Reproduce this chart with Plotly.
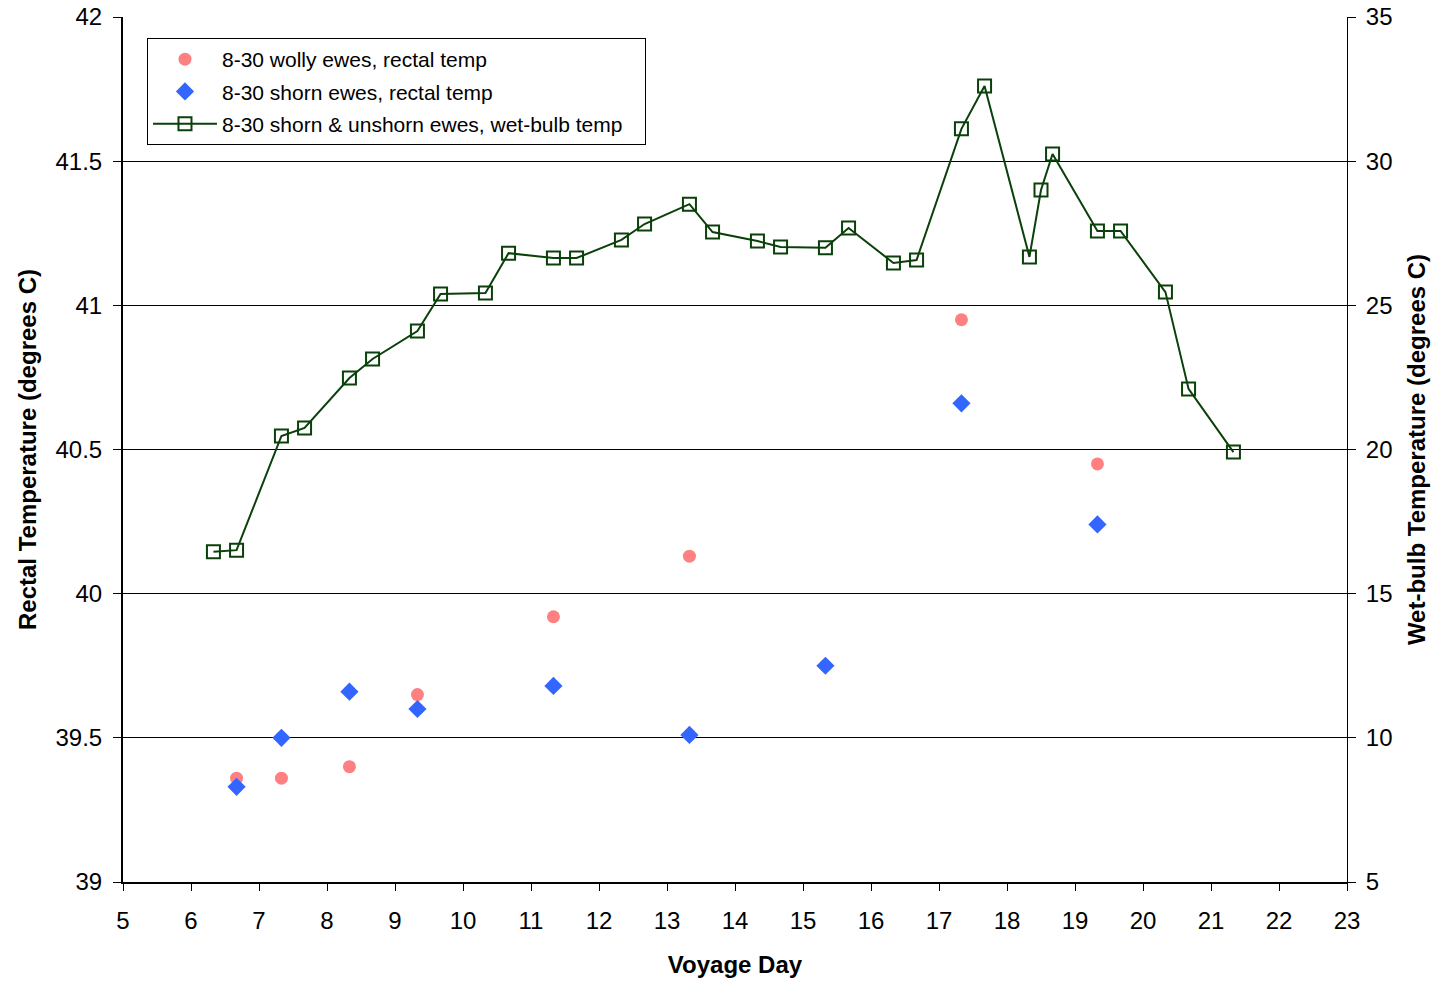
import plotly.graph_objects as go

# Wet-bulb temperature (right axis)
wb_day = [6.33, 6.67, 7.33, 7.67, 8.33, 8.67, 9.33, 9.67, 10.33, 10.67, 11.33, 11.67,
          12.33, 12.67, 13.33, 13.67, 14.33, 14.67, 15.33, 15.67, 16.33, 16.67,
          17.33, 17.67, 18.33, 18.5, 18.67, 19.33, 19.67, 20.33, 20.67, 21.33]
wb_temp = [16.45, 16.51, 20.47, 20.75, 22.48, 23.14, 24.11, 25.39, 25.43, 26.81, 26.64, 26.64,
           27.27, 27.82, 28.51, 27.54, 27.23, 27.02, 27.0, 27.68, 26.47, 26.57,
           31.12, 32.61, 26.68, 29.0, 30.25, 27.58, 27.58, 25.46, 22.1, 19.91]

# Woolly ewes rectal temperature (left axis)
woolly_day = [6.67, 7.33, 8.33, 9.33, 11.33, 13.33, 17.33, 19.33]
woolly_temp = [39.36, 39.36, 39.40, 39.65, 39.92, 40.13, 40.95, 40.45]

# Shorn ewes rectal temperature (left axis)
shorn_day = [6.67, 7.33, 8.33, 9.33, 11.33, 13.33, 15.33, 17.33, 19.33]
shorn_temp = [39.33, 39.50, 39.66, 39.60, 39.68, 39.51, 39.75, 40.66, 40.24]

FONT = "Arial, Liberation Sans, sans-serif"
GREEN = "#0A400A"

fig = go.Figure()
fig.add_trace(go.Scatter(
    x=woolly_day, y=woolly_temp, mode="markers", name="8-30 wolly ewes, rectal temp",
    marker=dict(symbol="circle", size=13, color="#FF8080"), legendgroup="a"))
fig.add_trace(go.Scatter(
    x=shorn_day, y=shorn_temp, mode="markers", name="8-30 shorn ewes, rectal temp",
    marker=dict(symbol="diamond", size=14, color="#3366FF"), legendgroup="b"))
fig.add_trace(go.Scatter(
    x=wb_day, y=wb_temp, mode="lines+markers", yaxis="y2",
    name="8-30 shorn & unshorn ewes, wet-bulb temp\u00a0\u00a0\u00a0",
    line=dict(color=GREEN, width=2),
    marker=dict(symbol="square-open", size=13, color=GREEN, line=dict(width=2, color=GREEN)),
    legendgroup="c"))
# empty helper traces so the inner tick axes are drawn
fig.add_trace(go.Scatter(x=[None], y=[None], yaxis="y3", showlegend=False, hoverinfo="skip"))
fig.add_trace(go.Scatter(x=[None], y=[None], yaxis="y4", showlegend=False, hoverinfo="skip"))

tickfont = dict(family=FONT, size=24, color="black")
titlefont = dict(family=FONT, size=24, color="black", weight="bold")

fig.update_layout(
    width=1436, height=984,
    margin=dict(l=123, r=89, t=17, b=102, autoexpand=False),
    plot_bgcolor="white", paper_bgcolor="white",
    font=dict(family=FONT, color="black"),
    xaxis=dict(range=[5, 23], dtick=1, tick0=5, showgrid=False, zeroline=False,
               showline=True, linecolor="black", linewidth=2, automargin=False,
               ticks="outside", ticklen=7, tickcolor="black", tickwidth=1,
               tickfont=tickfont, ticklabelstandoff=9,
               title=dict(text="Voyage Day", font=titlefont, standoff=23)),
    yaxis=dict(range=[39, 42], dtick=0.5, showgrid=True, gridcolor="black", gridwidth=1,
               zeroline=False, showline=True, linecolor="black", linewidth=2, automargin=False,
               ticks="outside", ticklen=8, tickcolor="black", tickwidth=1,
               tickfont=tickfont, ticklabelstandoff=6,
               title=dict(text="Rectal Temperature (degrees C)", font=titlefont, standoff=12)),
    yaxis2=dict(range=[5, 35], dtick=5, overlaying="y", side="right", showgrid=False,
                zeroline=False, showline=True, linecolor="black", linewidth=1, automargin=False,
                ticks="outside", ticklen=8, tickcolor="black", tickwidth=1,
                tickfont=tickfont, ticklabelstandoff=5,
                title=dict(text="Wet-bulb Temperature (degrees C)", font=titlefont, standoff=16)),
    yaxis3=dict(range=[39, 42], dtick=0.5, overlaying="y", side="left", showgrid=False,
                zeroline=False, showline=False, ticks="inside", ticklen=8, automargin=False,
                tickcolor="black", tickwidth=1, showticklabels=False),
    yaxis4=dict(range=[5, 35], dtick=5, overlaying="y", side="right", showgrid=False,
                zeroline=False, showline=False, ticks="inside", ticklen=8, automargin=False,
                tickcolor="black", tickwidth=1, showticklabels=False),
    legend=dict(x=0.0196, y=0.9757, xanchor="left", yanchor="top",
                bgcolor="white", bordercolor="black", borderwidth=1,
                font=dict(family=FONT, size=21, color="black"),
                traceorder="grouped", tracegroupgap=2, itemwidth=64),
)

fig.write_html("out.html")
